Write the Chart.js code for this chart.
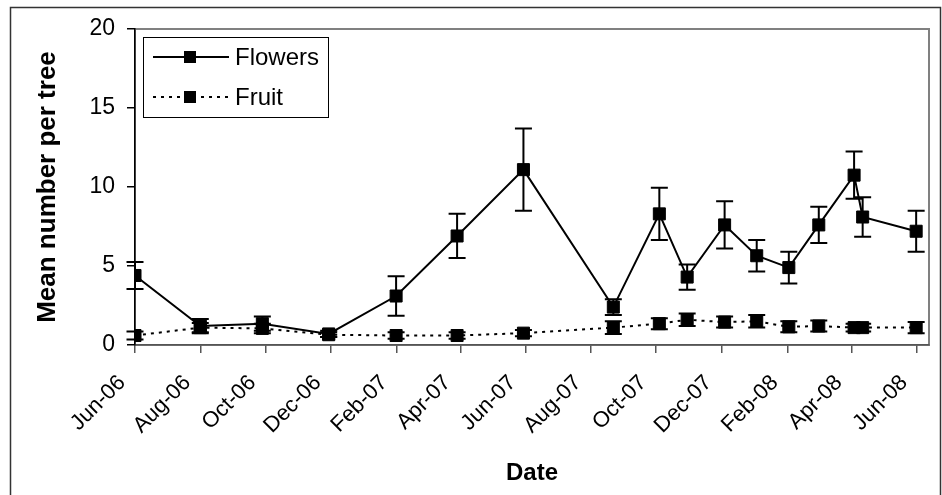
<!DOCTYPE html>
<html><head><meta charset="utf-8">
<script src="https://cdn.jsdelivr.net/npm/chart.js@4.4.1/dist/chart.umd.min.js"></script>
<style>html,body{margin:0;padding:0;background:#fff;}#wrap{width:942px;height:495px;position:relative;}</style>
</head><body><div id="wrap"><canvas id="c" width="942" height="495"></canvas></div>
<script>
// ---- data ----
const sampleDates = ['2006-06-01','2006-08-01','2006-09-28','2006-11-29','2007-01-31','2007-03-29','2007-05-30','2007-08-22','2007-10-04','2007-10-30','2007-12-04','2008-01-03','2008-02-02','2008-03-01','2008-04-03','2008-04-11','2008-05-31'];
const flowers    = [4.4, 1.2, 1.35, 0.7, 3.1, 6.9, 11.1, 2.4, 8.3, 4.3, 7.6, 5.65, 4.9, 7.6, 10.75, 8.1, 7.2];
const flowersErr = [0.85, 0.45, 0.45, 0.2, 1.25, 1.4, 2.6, 0.5, 1.65, 0.8, 1.5, 1.0, 1.0, 1.15, 1.5, 1.25, 1.3];
const fruit      = [0.6, 1.1, 1.05, 0.65, 0.6, 0.6, 0.75, 1.1, 1.35, 1.6, 1.45, 1.5, 1.15, 1.2, 1.1, 1.1, 1.1];
const fruitErr   = [0.25, 0.3, 0.3, 0.15, 0.2, 0.2, 0.2, 0.4, 0.35, 0.4, 0.35, 0.4, 0.35, 0.35, 0.25, 0.25, 0.35];
const tickDates  = ['2006-06-01','2006-08-01','2006-10-01','2006-12-01','2007-02-01','2007-04-01','2007-06-01','2007-08-01','2007-10-01','2007-12-01','2008-02-01','2008-04-01','2008-06-01'];
const tickLabels = ['Jun-06','Aug-06','Oct-06','Dec-06','Feb-07','Apr-07','Jun-07','Aug-07','Oct-07','Dec-07','Feb-08','Apr-08','Jun-08'];
const axisStart = '2006-06-01';
const axisEnd   = '2008-06-12';
const yTicks = [0, 5, 10, 15, 20];
const seriesNames = ['Flowers', 'Fruit'];
const yTitle = 'Mean number per tree';
const xTitle = 'Date';

const FONT = "'Liberation Sans', Arial, sans-serif";
const dayOf = s => (Date.parse(s + 'T00:00:00Z') - Date.parse(axisStart + 'T00:00:00Z')) / 86400000;
const tickDays = tickDates.map(dayOf);

const errorBars = {
  id: 'errorBars',
  beforeDatasetsDraw(chart) {
    const {ctx, scales: {x, y}} = chart;
    ctx.save();
    ctx.strokeStyle = '#000';
    ctx.lineWidth = 2;
    chart.data.datasets.forEach(ds => {
      ds.data.forEach((p, i) => {
        const e = ds.errors[i];
        const px = x.getPixelForValue(p.x);
        const yt = y.getPixelForValue(p.y + e);
        const yb = y.getPixelForValue(p.y - e);
        ctx.beginPath();
        ctx.moveTo(px, yt); ctx.lineTo(px, yb);
        ctx.moveTo(px - 8.5, yt); ctx.lineTo(px + 8.5, yt);
        ctx.moveTo(px - 8.5, yb); ctx.lineTo(px + 8.5, yb);
        ctx.stroke();
      });
    });
    ctx.restore();
  }
};

const frame = {
  id: 'frame',
  beforeDraw(chart) {
    const {ctx, chartArea: a} = chart;
    ctx.save();
    ctx.fillStyle = '#fff';
    ctx.fillRect(0, 0, chart.width, chart.height);
    ctx.strokeStyle = '#333';
    ctx.lineWidth = 1.5;
    ctx.strokeRect(10.5, 7.5, 930, 520);
    ctx.strokeStyle = '#808080';
    ctx.lineWidth = 2;
    ctx.strokeRect(a.left, a.top, a.right - a.left, a.bottom - a.top);
    ctx.restore();
  }
};

const legendBox = {
  id: 'legendBox',
  afterDraw(chart) {
    const {ctx} = chart;
    const bx = 143.5, by = 37.5, bw = 185, bh = 80;
    ctx.save();
    ctx.fillStyle = '#fff';
    ctx.fillRect(bx, by, bw, bh);
    ctx.strokeStyle = '#000';
    ctx.lineWidth = 1;
    ctx.strokeRect(bx, by, bw, bh);
    chart.data.datasets.forEach((ds, i) => {
      const cy = by + 19.5 + i * 40;
      ctx.beginPath();
      ctx.setLineDash(ds.borderDash || []);
      ctx.strokeStyle = ds.borderColor;
      ctx.lineWidth = ds.borderWidth;
      ctx.moveTo(153, cy); ctx.lineTo(229, cy);
      ctx.stroke();
      ctx.setLineDash([]);
      ctx.fillStyle = '#000';
      ctx.fillRect(184, cy - 6, 12, 12);
      ctx.font = '24px ' + FONT;
      ctx.textBaseline = 'middle';
      ctx.textAlign = 'left';
      ctx.fillText(ds.label, 235, cy + 1);
    });
    ctx.restore();
  }
};

const mk = (vals) => sampleDates.map((d, i) => ({x: dayOf(d), y: vals[i]}));

new Chart(document.getElementById('c'), {
  type: 'line',
  data: {
    datasets: [
      {label: seriesNames[0], data: mk(flowers), errors: flowersErr, borderColor: '#000', borderWidth: 2,
       pointStyle: 'rect', pointRadius: 8.5, pointBackgroundColor: '#000', pointBorderColor: '#000', pointBorderWidth: 1, tension: 0, fill: false},
      {label: seriesNames[1], data: mk(fruit), errors: fruitErr, borderColor: '#000', borderWidth: 2, borderDash: [3, 5],
       pointStyle: 'rect', pointRadius: 8.5, pointBackgroundColor: '#000', pointBorderColor: '#000', pointBorderWidth: 1, tension: 0, fill: false}
    ]
  },
  options: {
    responsive: false,
    animation: false,
    events: [],
    layout: {padding: {left: 0, top: 29, right: 13, bottom: 0}},
    plugins: {legend: {display: false}, tooltip: {enabled: false}},
    scales: {
      x: {
        type: 'linear',
        min: dayOf(axisStart), max: dayOf(axisEnd),
        afterBuildTicks: s => { s.ticks = tickDays.map(v => ({value: v})); },
        afterFit: s => { s.height = 150; s.paddingRight = 0; s.paddingLeft = 0; },
        ticks: {
          autoSkip: false, maxRotation: 45, minRotation: 45, padding: 17, labelOffset: -13,
          color: '#000', font: {family: FONT, size: 22},
          callback: (v) => { const k = tickDays.indexOf(v); return k >= 0 ? tickLabels[k] : ''; }
        },
        grid: {drawOnChartArea: false, drawTicks: true, tickLength: 8, color: '#555', lineWidth: 1.5},
        border: {display: true, color: '#555', width: 1.5},
        title: {display: true, text: xTitle, color: '#000', font: {family: FONT, size: 24, weight: 'bold'}, padding: {top: 0, bottom: 7}}
      },
      y: {
        type: 'linear', min: 0, max: 20,
        afterBuildTicks: s => { s.ticks = yTicks.map(v => ({value: v})); },
        afterFit: s => { s.width = 135; },
        ticks: {color: '#000', font: {family: FONT, size: 23}, padding: 12},
        grid: {drawOnChartArea: false, drawTicks: true, tickLength: 8, color: '#000', lineWidth: 1.5},
        border: {display: true, color: '#000', width: 1.5},
        title: {display: true, text: yTitle, color: '#000', font: {family: FONT, size: 26, weight: 'bold'}, padding: {top: 32, bottom: 0}}
      }
    }
  },
  plugins: [frame, errorBars, legendBox]
});
</script>
</body></html>
